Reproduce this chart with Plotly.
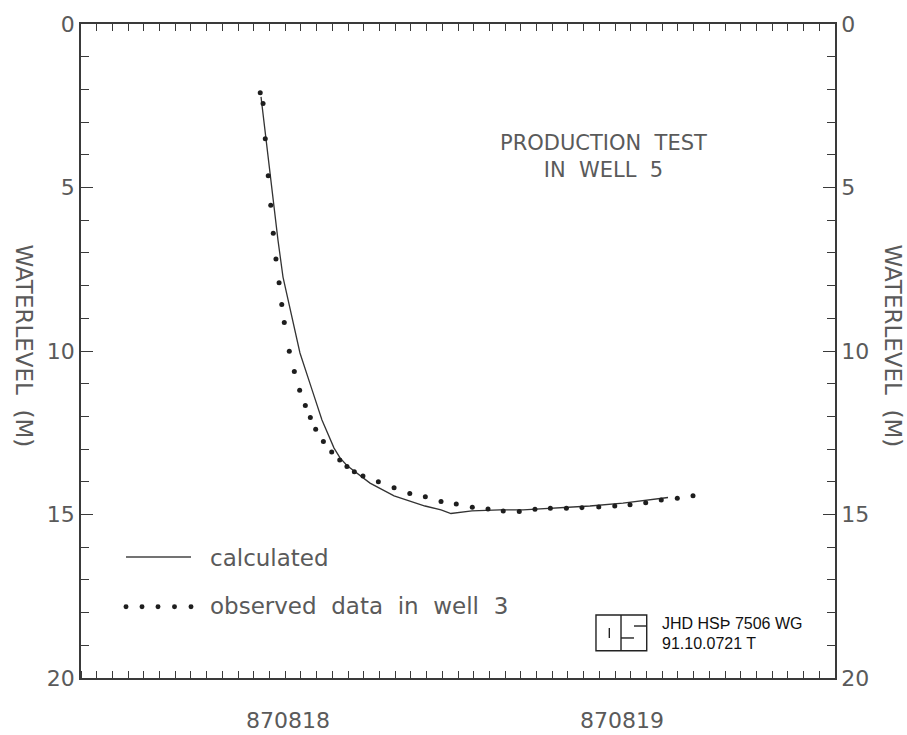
import plotly.graph_objects as go

# ---- data (x: hours from left edge of the time axis, y: water level in m) ----
calc_hours = [11.46, 11.78, 12.16, 12.54, 12.86, 13.31, 13.94, 14.71, 15.34, 16.11,
              16.49, 16.93, 17.44, 18.40, 19.93, 20.94, 21.90, 22.92, 23.55, 24.89,
              26.67, 28.14, 30.30, 32.40, 34.50, 36.22, 37.37]
calc_level = [2.23, 3.55, 5.08, 6.61, 7.74, 8.75, 10.06, 11.19, 12.11, 12.97,
              13.27, 13.50, 13.69, 14.04, 14.43, 14.60, 14.74, 14.86, 14.97, 14.89,
              14.86, 14.86, 14.80, 14.74, 14.65, 14.56, 14.48]

obs_hours = [11.41, 11.59, 11.73, 11.92, 12.08, 12.24, 12.41, 12.61, 12.78, 12.94,
             13.26, 13.58, 13.92, 14.28, 14.60, 14.94, 15.43, 15.96, 16.47, 16.93,
             17.40, 17.95, 18.93, 19.93, 20.93, 21.92, 22.92, 23.89, 24.91, 25.91,
             26.88, 27.90, 28.90, 29.88, 30.90, 31.89, 32.96, 33.98, 34.95, 35.95,
             36.94, 37.96, 38.96]
obs_level = [2.10, 2.43, 3.51, 4.64, 5.54, 6.40, 7.19, 7.91, 8.58, 9.13,
             10.01, 10.63, 11.20, 11.67, 12.03, 12.39, 12.77, 13.09, 13.33, 13.53,
             13.69, 13.82, 14.00, 14.18, 14.36, 14.46, 14.60, 14.68, 14.78, 14.83,
             14.89, 14.91, 14.84, 14.81, 14.81, 14.79, 14.77, 14.74, 14.70, 14.64,
             14.56, 14.50, 14.43]

x_tick_vals = [13.18, 34.44]
x_tick_text = ["870818", "870819"]
y_tick_vals = [0, 5, 10, 15, 20]

FONT = "DejaVu Sans"
GREY = "#5a5a5a"
AX = "#3a3a3a"

fig = go.Figure()
fig.add_trace(go.Scatter(x=calc_hours, y=calc_level, mode="lines",
                         line=dict(color="#333333", width=1.3),
                         name="calculated", showlegend=False,
                         xaxis="x", yaxis="y"))
fig.add_trace(go.Scatter(x=obs_hours, y=obs_level, mode="markers",
                         marker=dict(color="#1e1e1e", size=5),
                         name="observed data in well 3", showlegend=False,
                         xaxis="x2", yaxis="y2"))

common_x = dict(range=[0, 48], showgrid=False, zeroline=False, showline=True,
                linecolor=AX, linewidth=1.5, automargin=False)
common_y = dict(range=[20, 0], showgrid=False, zeroline=False, showline=True,
                linecolor=AX, linewidth=1.5, tickmode="array", tickvals=y_tick_vals,
                ticks="inside", ticklen=12, tickwidth=1.3, tickcolor=AX,
                minor=dict(tickmode="linear", tick0=0, dtick=1, ticks="inside",
                           ticklen=8, tickwidth=1.2, tickcolor=AX),
                tickfont=dict(family=FONT, size=22, color=GREY), automargin=False)

fig.update_layout(
    width=907, height=735,
    margin=dict(l=81, r=72, t=24, b=57),
    paper_bgcolor="white", plot_bgcolor="white",
    xaxis=dict(**common_x, side="bottom", tickmode="array", tickvals=x_tick_vals,
               ticktext=x_tick_text, ticks="", ticklabelstandoff=22,
               tickfont=dict(family=FONT, size=22, color=GREY),
               minor=dict(tickmode="linear", tick0=0, dtick=1, ticks="inside",
                          ticklen=7, tickwidth=1.2, tickcolor=AX)),
    xaxis2=dict(**common_x, side="top", overlaying="x", anchor="y2",
                ticks="inside", tickmode="linear", tick0=0, dtick=1, ticklen=7,
                tickwidth=1.2, tickcolor=AX, showticklabels=False),
    yaxis=dict(**common_y, side="left", anchor="x"),
    yaxis2=dict(**common_y, side="right", overlaying="y", anchor="x2"),
    showlegend=False,
)

ann = []
title_font = dict(family=FONT, size=23, color=GREY)
ann.append(dict(text="PRODUCTION\u00a0\u00a0TEST<br>IN\u00a0\u00a0WELL\u00a0\u00a05",
                x=0.6936, y=0.798, xref="paper", yref="paper", showarrow=False,
                font=dict(family=FONT, size=21, color=GREY), xanchor="center",
                yanchor="middle", align="center"))
for xp in (-0.0756, 1.0769):
    ann.append(dict(text="WATERLEVEL\u00a0\u00a0(M)", x=xp, y=0.507, xref="paper",
                    yref="paper", showarrow=False, textangle=90, font=title_font,
                    xanchor="center", yanchor="middle"))
# legend texts
ann.append(dict(text="calculated", x=0.1684, y=0.1835, xref="paper", yref="paper",
                showarrow=False, font=title_font, xanchor="left", yanchor="middle"))
ann.append(dict(text="observed\u00a0\u00a0data\u00a0\u00a0in\u00a0\u00a0well\u00a0\u00a03",
                x=0.1684, y=0.110, xref="paper", yref="paper", showarrow=False,
                font=title_font, xanchor="left", yanchor="middle"))
# logo texts
logo_font = dict(family="Liberation Sans", size=16, color="#111111")
ann.append(dict(text="JHD HSÞ 7506 WG", x=0.768, y=0.0833, xref="paper", yref="paper",
                showarrow=False, font=logo_font, xanchor="left", yanchor="middle"))
ann.append(dict(text="91.10.0721 T", x=0.768, y=0.052, xref="paper", yref="paper",
                showarrow=False, font=logo_font, xanchor="left", yanchor="middle"))
fig.update_layout(annotations=ann)

shapes = []
# legend line sample
shapes.append(dict(type="line", xref="paper", yref="paper", x0=0.0597, x1=0.1459,
                   y0=0.185, y1=0.185, line=dict(color="#444444", width=1.3)))
# legend dot samples
for xp in (0.0597, 0.0809, 0.1021, 0.1240, 0.1459):
    shapes.append(dict(type="circle", xref="paper", yref="paper",
                       x0=xp - 0.0033, x1=xp + 0.0033, y0=0.109 - 0.0038, y1=0.109 + 0.0038,
                       fillcolor="#1e1e1e", line=dict(width=0)))
# logo box
lw = dict(color="#222222", width=1.4)
shapes.append(dict(type="rect", xref="paper", yref="paper", x0=0.683, x1=0.7503,
                   y0=0.0417, y1=0.0963, line=lw))
shapes.append(dict(type="line", xref="paper", yref="paper", x0=0.7162, x1=0.7162,
                   y0=0.0417, y1=0.0963, line=lw))
shapes.append(dict(type="line", xref="paper", yref="paper", x0=0.7007, x1=0.7007,
                   y0=0.0612, y1=0.0765, line=lw))
shapes.append(dict(type="line", xref="paper", yref="paper", x0=0.7334, x1=0.7503,
                   y0=0.0795, y1=0.0795, line=lw))
shapes.append(dict(type="line", xref="paper", yref="paper", x0=0.7162, x1=0.7334,
                   y0=0.0612, y1=0.0612, line=lw))
fig.update_layout(shapes=shapes)

fig.write_html("out.html")
